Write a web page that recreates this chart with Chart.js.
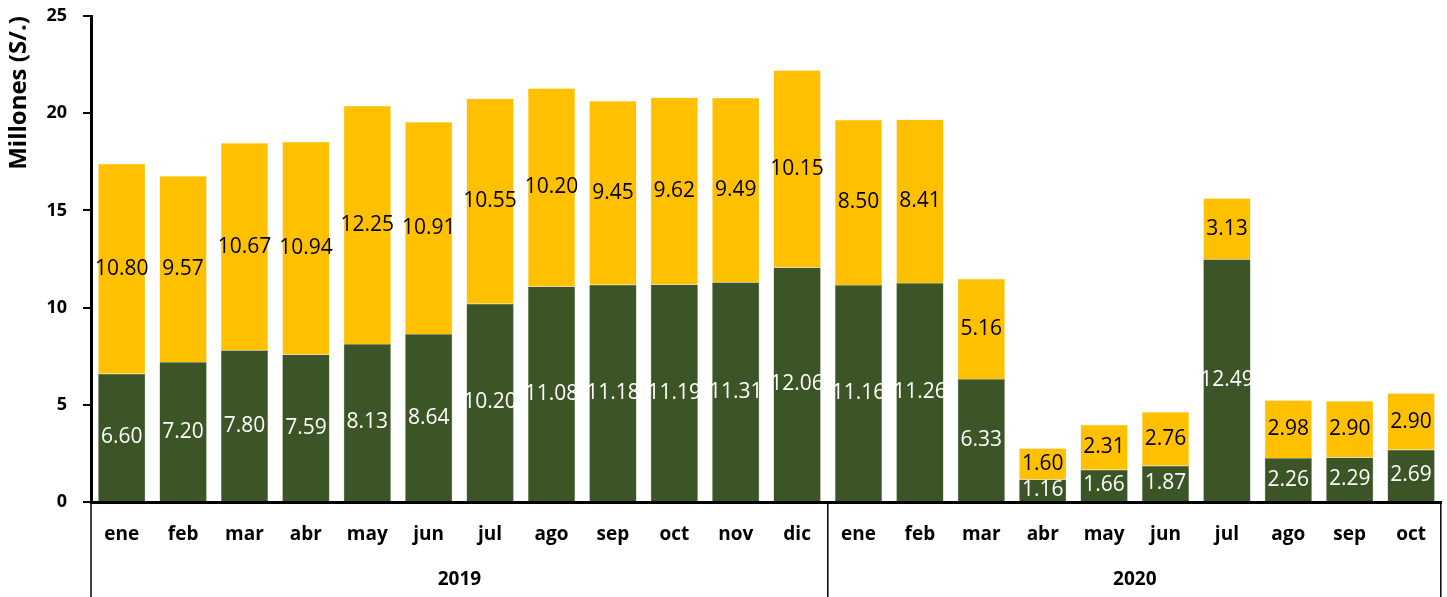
<!DOCTYPE html>
<html lang="es">
<head>
<meta charset="UTF-8">
<title>Millones (S/.)</title>
<script src="https://cdn.jsdelivr.net/npm/chart.js@4.4.0/dist/chart.umd.min.js"></script>
<style>
  html, body { margin: 0; padding: 0; background: #fff; }
  #wrap { width: 1447px; height: 597px; }
</style>
</head>
<body>
<div id="wrap"><canvas id="chart"></canvas></div>
<script>
const years = ['2019', '2020'];
const months2019 = ['ene','feb','mar','abr','may','jun','jul','ago','sep','oct','nov','dic'];
const months2020 = ['ene','feb','mar','abr','may','jun','jul','ago','sep','oct'];

const green2019 = [6.60, 7.20, 7.80, 7.59, 8.13, 8.64, 10.20, 11.08, 11.18, 11.19, 11.31, 12.06];
const yellow2019 = [10.80, 9.57, 10.67, 10.94, 12.25, 10.91, 10.55, 10.20, 9.45, 9.62, 9.49, 10.15];
const green2020 = [11.16, 11.26, 6.33, 1.16, 1.66, 1.87, 12.49, 2.26, 2.29, 2.69];
const yellow2020 = [8.50, 8.41, 5.16, 1.60, 2.31, 2.76, 3.13, 2.98, 2.90, 2.90];

const yTicks = [0, 5, 10, 15, 20, 25];

const labels = months2019.concat(months2020);
const groups = [months2019.length, months2020.length];

const FONT = "'Open Sans', 'DejaVu Sans', sans-serif";

// value labels in the middle of every segment
const segmentLabels = {
    id: 'segmentLabels',
    afterDatasetsDraw(chart) {
        const ctx = chart.ctx;
        ctx.save();
        ctx.font = '21px ' + FONT;
        ctx.textAlign = 'center';
        ctx.textBaseline = 'middle';
        chart.data.datasets.forEach((ds, i) => {
            const meta = chart.getDatasetMeta(i);
            meta.data.forEach((bar, j) => {
                const v = ds.data[j];
                if (v == null) return;
                ctx.fillStyle = ds.labelColor;
                ctx.fillText(v.toFixed(2), bar.x, (bar.y + bar.base) / 2);
            });
        });
        ctx.restore();
    }
};

// second level of the category axis: years and separators
const yearAxis = {
    id: 'yearAxis',
    afterDraw(chart) {
        const ctx = chart.ctx;
        const x = chart.scales.x;
        const top = x.top;
        const bottom = chart.height;
        ctx.save();
        ctx.strokeStyle = '#000';
        ctx.lineWidth = 1.5;
        let start = 0;
        const edges = [x.left];
        groups.forEach((n, g) => {
            const first = x.getPixelForValue(start);
            const last = x.getPixelForValue(start + n - 1);
            ctx.fillStyle = '#000';
            ctx.font = 'bold 19px ' + FONT;
            ctx.textAlign = 'center';
            ctx.textBaseline = 'middle';
            ctx.fillText(years[g], (first + last) / 2, 580);
            start += n;
            if (start < labels.length) {
                edges.push((x.getPixelForValue(start - 1) + x.getPixelForValue(start)) / 2);
            }
        });
        edges.push(x.right - 1);
        edges.forEach(e => {
            ctx.beginPath();
            ctx.moveTo(e, top);
            ctx.lineTo(e, bottom);
            ctx.stroke();
        });
        ctx.restore();
    }
};

new Chart(document.getElementById('chart'), {
    type: 'bar',
    data: {
        labels: labels,
        datasets: [{
            label: 'verde',
            data: green2019.concat(green2020),
            backgroundColor: '#3b5526',
            borderColor: '#8a9a7c',
            borderWidth: 0.5,
            labelColor: '#fff',
            barPercentage: 0.77,
            categoryPercentage: 1
        }, {
            label: 'amarillo',
            data: yellow2019.concat(yellow2020),
            backgroundColor: '#ffc000',
            borderColor: '#ffe08a',
            borderWidth: 0.5,
            labelColor: '#000',
            barPercentage: 0.77,
            categoryPercentage: 1
        }]
    },
    options: {
        responsive: true,
        maintainAspectRatio: false,
        animation: false,
        layout: { padding: { top: 16, right: 0, left: 0, bottom: 0 } },
        plugins: {
            legend: { display: false },
            tooltip: { enabled: false }
        },
        scales: {
            x: {
                stacked: true,
                grid: { display: false, drawTicks: false },
                border: { display: true, color: '#000', width: 3 },
                ticks: {
                    color: '#000',
                    font: { family: FONT, size: 19, weight: 'bold' },
                    padding: 21,
                    maxRotation: 0,
                    autoSkip: false
                },
                afterFit(scale) { scale.height = 95; }
            },
            y: {
                stacked: true,
                min: 0,
                max: 25,
                afterBuildTicks(scale) { scale.ticks = yTicks.map(v => ({ value: v })); },
                grid: { display: true, drawOnChartArea: false, drawTicks: true, tickLength: 8, color: '#000', lineWidth: 2 },
                border: { display: true, color: '#000', width: 3 },
                ticks: {
                    color: '#000',
                    font: { family: FONT, size: 18, weight: 'bold' },
                    padding: 16
                },
                title: {
                    display: true,
                    text: 'Millones (S/.)',
                    align: 'end',
                    color: '#000',
                    font: { family: FONT, size: 24, weight: 'bold' },
                    padding: { top: 5, bottom: 4 }
                },
                afterFit(scale) {
                    scale.width = 91;
                    scale.paddingTop = 0;
                    scale.paddingBottom = 0;
                }
            }
        }
    },
    plugins: [segmentLabels, yearAxis]
});
</script>
</body>
</html>
